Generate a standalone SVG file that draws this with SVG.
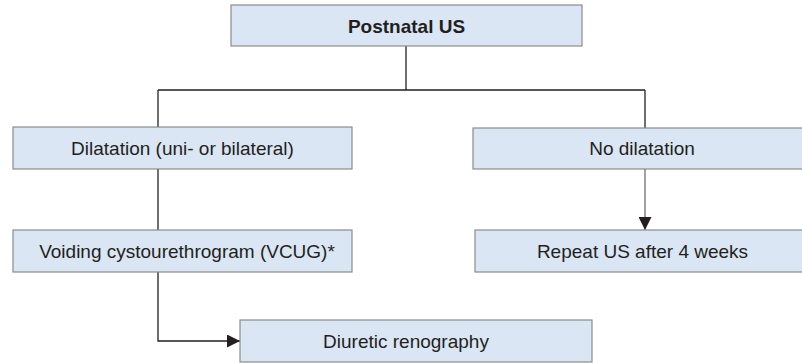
<svg xmlns="http://www.w3.org/2000/svg" width="802" height="363" viewBox="0 0 802 363">
<style>
.box{fill:#dae6f3;stroke:#8a8c8e;stroke-width:1.2}
.t{font-family:"Liberation Sans",Arial,sans-serif;font-size:19px;fill:#231f20;text-anchor:middle}
.b{font-weight:bold}
.ln{fill:none;stroke:#231f20;stroke-width:1.3}
.lg{fill:none;stroke:#6d6e71;stroke-width:1.3}
</style>
<defs>
<marker id="ah" markerWidth="13" markerHeight="13" refX="13" refY="6.5" orient="auto" markerUnits="userSpaceOnUse">
<path d="M0,0 L13,6.5 L0,13 Z" fill="#231f20"/>
</marker>
</defs>
<rect width="802" height="363" fill="#ffffff"/>
<g id="connectors">
<path class="ln" d="M406,46 V90"/>
<path class="ln" d="M158,90 H645"/>
<path class="ln" d="M158,90 V127"/>
<path class="ln" d="M645,90 V128"/>
<path class="ln" d="M158,169 V230"/>
<path class="lg" d="M645,169 V230" marker-end="url(#ah)"/>
<path class="ln" d="M158,272 V341 H240" marker-end="url(#ah)"/>
</g>
<g id="node-postnatal">
<rect class="box" x="231" y="5" width="351" height="41"/>
<text class="t b" x="406.5" y="33">Postnatal US</text>
</g>
<g id="node-dilatation">
<rect class="box" x="13" y="127" width="339" height="42"/>
<text class="t" x="182.5" y="155">Dilatation (uni- or bilateral)</text>
</g>
<g id="node-nodilatation">
<rect class="box" x="473" y="128" width="340" height="41"/>
<text class="t" x="642" y="155">No dilatation</text>
</g>
<g id="node-vcug">
<rect class="box" x="13" y="230" width="339" height="42"/>
<text class="t" x="187" y="258">Voiding cystourethrogram (VCUG)*</text>
</g>
<g id="node-repeat">
<rect class="box" x="475" y="230" width="338" height="42"/>
<text class="t" x="642.5" y="258">Repeat US after 4 weeks</text>
</g>
<g id="node-diuretic">
<rect class="box" x="240" y="320" width="352" height="42"/>
<text class="t" x="406" y="348">Diuretic renography</text>
</g>
</svg>
